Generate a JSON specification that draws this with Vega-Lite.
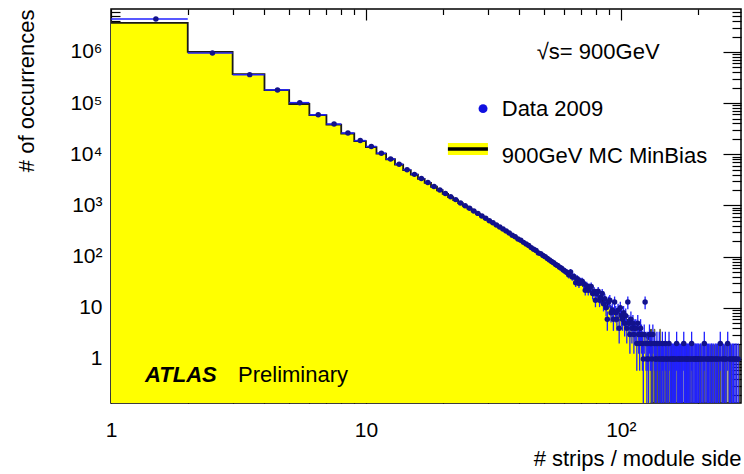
{
"$schema":"https://vega.github.io/schema/vega-lite/v6.json",
"width":630,"height":394,"autosize":"none",
"padding":{"left":111,"top":9,"right":3,"bottom":71},
"background":"white",
"config":{"view":{"stroke":"black","strokeWidth":1.5},"font":"Liberation Sans",
"axis":{"grid":false,"domain":false,"tickColor":"black","tickWidth":1.2,"labelColor":"black","titleColor":"black","labelFont":"Liberation Sans","titleFont":"Liberation Sans","labelFontSize":21,"titleFontSize":22,"titleFontWeight":"normal","labelFlush":false,"labelOverlap":false}},
"datasets":{"h":[
{"n":1,"e":2,"c":1.5,"m":3700000,"d":4400000},
{"n":2,"e":3,"c":2.5,"m":1000000,"d":950000},
{"n":3,"e":4,"c":3.5,"m":370000,"d":360000},
{"n":4,"e":5,"c":4.5,"m":180000,"d":181000},
{"n":5,"e":6,"c":5.5,"m":96000,"d":102000},
{"n":6,"e":7,"c":6.5,"m":58000,"d":59000},
{"n":7,"e":8,"c":7.5,"m":38000,"d":39000},
{"n":8,"e":9,"c":8.5,"m":25500,"d":26000},
{"n":9,"e":10,"c":9.5,"m":18000,"d":18500},
{"n":10,"e":11,"c":10.5,"m":13800,"d":14200},
{"n":11,"e":12,"c":11.5,"m":10300,"d":10500},
{"n":12,"e":13,"c":12.5,"m":8000,"d":8100},
{"n":13,"e":14,"c":13.5,"m":6300,"d":6400},
{"n":14,"e":15,"c":14.5,"m":4900,"d":5000},
{"n":15,"e":16,"c":15.5,"m":4000,"d":4050},
{"n":16,"e":17,"c":16.5,"m":3300,"d":3350},
{"n":17,"e":18,"c":17.5,"m":2760,"d":2800},
{"n":18,"e":19,"c":18.5,"m":2320,"d":2350},
{"n":19,"e":20,"c":19.5,"m":1980,"d":2000},
{"n":20,"e":21,"c":20.5,"m":1690,"d":1720},
{"n":21,"e":22,"c":21.5,"m":1460,"d":1480},
{"n":22,"e":23,"c":22.5,"m":1270,"d":1300},
{"n":23,"e":24,"c":23.5,"m":1110,"d":1120},
{"n":24,"e":25,"c":24.5,"m":977,"d":990},
{"n":25,"e":26,"c":25.5,"m":865,"d":880},
{"n":26,"e":27,"c":26.5,"m":769,"d":780},
{"n":27,"e":28,"c":27.5,"m":685,"d":700},
{"n":28,"e":29,"c":28.5,"m":614,"d":620},
{"n":29,"e":30,"c":29.5,"m":552,"d":560},
{"n":30,"e":31,"c":30.5,"m":498,"d":505},
{"n":31,"e":32,"c":31.5,"m":451,"d":460},
{"n":32,"e":33,"c":32.5,"m":410,"d":415},
{"n":33,"e":34,"c":33.5,"m":373,"d":380},
{"n":34,"e":35,"c":34.5,"m":340,"d":345},
{"n":35,"e":36,"c":35.5,"m":310,"d":318},
{"n":36,"e":37,"c":36.5,"m":284,"d":290},
{"n":37,"e":38,"c":37.5,"m":260,"d":262},
{"n":38,"e":39,"c":38.5,"m":239,"d":245},
{"n":39,"e":40,"c":39.5,"m":220,"d":222},
{"n":40,"e":41,"c":40.5,"m":202,"d":210},
{"n":41,"e":42,"c":41.5,"m":187,"d":190},
{"n":42,"e":43,"c":42.5,"m":173,"d":176},
{"n":43,"e":44,"c":43.5,"m":160,"d":165},
{"n":44,"e":45,"c":44.5,"m":148,"d":150},
{"n":45,"e":46,"c":45.5,"m":137,"d":140,"lo":128.2,"hi":151.8},
{"n":46,"e":47,"c":46.5,"m":127,"d":132,"lo":120.5,"hi":143.5},
{"n":47,"e":48,"c":47.5,"m":119,"d":118,"lo":107.1,"hi":128.9},
{"n":48,"e":49,"c":48.5,"m":110,"d":114,"lo":103.3,"hi":124.7},
{"n":49,"e":50,"c":49.5,"m":103,"d":105,"lo":94.8,"hi":115.2},
{"n":50,"e":51,"c":50.5,"m":96,"d":100,"lo":90,"hi":110},
{"n":51,"e":52,"c":51.5,"m":89.5,"d":92,"lo":82.4,"hi":101.6},
{"n":52,"e":53,"c":52.5,"m":83.6,"d":86,"lo":76.7,"hi":95.3},
{"n":53,"e":54,"c":53.5,"m":78.2,"d":80,"lo":71.1,"hi":88.9},
{"n":54,"e":55,"c":54.5,"m":73.3,"d":76,"lo":67.3,"hi":84.7},
{"n":55,"e":56,"c":55.5,"m":68.7,"d":70,"lo":61.6,"hi":78.4},
{"n":56,"e":57,"c":56.5,"m":64.4,"d":67,"lo":58.8,"hi":75.2},
{"n":57,"e":58,"c":57.5,"m":60.5,"d":62,"lo":54.1,"hi":69.9},
{"n":58,"e":59,"c":58.5,"m":56.9,"d":59,"lo":51.3,"hi":66.7},
{"n":59,"e":60,"c":59.5,"m":53.5,"d":55,"lo":47.6,"hi":62.4},
{"n":60,"e":61,"c":60.5,"m":50.3,"d":52,"lo":44.8,"hi":59.2},
{"n":61,"e":62,"c":61.5,"m":47.4,"d":49,"lo":42,"hi":56},
{"n":62,"e":63,"c":62.5,"m":44.7,"d":44,"lo":37.4,"hi":50.6},
{"n":63,"e":64,"c":63.5,"m":42.2,"d":50,"lo":42.9,"hi":57.1},
{"n":64,"e":65,"c":64.5,"m":39.8,"d":40,"lo":33.7,"hi":46.3},
{"n":65,"e":66,"c":65.5,"m":37.6,"d":41,"lo":34.6,"hi":47.4},
{"n":66,"e":67,"c":66.5,"m":35.5,"d":31,"lo":25.4,"hi":36.6},
{"n":67,"e":68,"c":67.5,"m":33.6,"d":37,"lo":30.9,"hi":43.1},
{"n":68,"e":69,"c":68.5,"m":31.8,"d":30,"lo":24.5,"hi":35.5},
{"n":69,"e":70,"c":69.5,"m":30.1,"d":33,"lo":27.3,"hi":38.7},
{"n":70,"e":71,"c":70.5,"m":28.5,"d":33,"lo":27.3,"hi":38.7},
{"n":71,"e":72,"c":71.5,"m":27,"d":30,"lo":24.5,"hi":35.5},
{"n":72,"e":73,"c":72.5,"m":25.7,"d":22,"lo":17.3,"hi":26.7},
{"n":73,"e":74,"c":73.5,"m":24.4,"d":27,"lo":21.8,"hi":32.2},
{"n":74,"e":75,"c":74.5,"m":23.1,"d":22,"lo":17.3,"hi":26.7},
{"n":75,"e":76,"c":75.5,"m":22,"d":25,"lo":20,"hi":30},
{"n":76,"e":77,"c":76.5,"m":20.9,"d":26,"lo":20.9,"hi":31.1},
{"n":77,"e":78,"c":77.5,"m":19.9,"d":19,"lo":14.6,"hi":23.4},
{"n":78,"e":79,"c":78.5,"m":18.9,"d":21,"lo":16.4,"hi":25.6},
{"n":79,"e":80,"c":79.5,"m":18,"d":14,"lo":10.26,"hi":17.74},
{"n":80,"e":81,"c":80.5,"m":17.2,"d":19,"lo":14.6,"hi":23.4},
{"n":81,"e":82,"c":81.5,"m":16.4,"d":21,"lo":16.4,"hi":25.6},
{"n":82,"e":83,"c":82.5,"m":15.6,"d":14,"lo":10.3,"hi":17.7},
{"n":83,"e":84,"c":83.5,"m":14.9,"d":16,"lo":12,"hi":20},
{"n":84,"e":85,"c":84.5,"m":14.2,"d":19,"lo":14.6,"hi":23.4},
{"n":85,"e":86,"c":85.5,"m":13.5,"d":12,"lo":8.5,"hi":15.5},
{"n":86,"e":87,"c":86.5,"m":12.9,"d":15,"lo":11.1,"hi":18.9},
{"n":87,"e":88,"c":87.5,"m":12.3,"d":10,"lo":6.84,"hi":13.16},
{"n":88,"e":89,"c":88.5,"m":11.8,"d":6,"lo":3.55,"hi":8.45},
{"n":89,"e":90,"c":89.5,"m":11.3,"d":13,"lo":9.4,"hi":16.6},
{"n":90,"e":91,"c":90.5,"m":10.8,"d":14,"lo":10.26,"hi":17.74},
{"n":91,"e":92,"c":91.5,"m":10.3,"d":8,"lo":5.17,"hi":10.83},
{"n":92,"e":93,"c":92.5,"m":9.9,"d":9,"lo":6,"hi":12},
{"n":93,"e":94,"c":93.5,"m":9.5,"d":6,"lo":3.55,"hi":8.45},
{"n":94,"e":95,"c":94.5,"m":9.1,"d":13,"lo":9.39,"hi":16.61},
{"n":95,"e":96,"c":95.5,"m":8.7,"d":8,"lo":5.17,"hi":10.83},
{"n":96,"e":97,"c":96.5,"m":8.4,"d":6,"lo":3.55,"hi":8.45},
{"n":97,"e":98,"c":97.5,"m":8,"d":9,"lo":6,"hi":12},
{"n":98,"e":99,"c":98.5,"m":7.7,"d":4,"lo":2,"hi":6},
{"n":99,"e":100,"c":99.5,"m":7.4,"d":10,"lo":6.84,"hi":13.16},
{"n":100,"e":101,"c":100.5,"m":7.1,"d":7,"lo":4.35,"hi":9.65},
{"n":101,"e":102,"c":101.5,"m":6.8,"d":6,"lo":3.55,"hi":8.45},
{"n":102,"e":103,"c":102.5,"m":6.5,"d":8,"lo":5.17,"hi":10.83},
{"n":103,"e":104,"c":103.5,"m":6.3,"d":5,"lo":2.76,"hi":7.24},
{"n":104,"e":105,"c":104.5,"m":6,"d":7,"lo":4.35,"hi":9.65},
{"n":105,"e":106,"c":105.5,"m":5.8,"d":4,"lo":2,"hi":6},
{"n":106,"e":107,"c":106.5,"m":5.6,"d":13,"lo":9.39,"hi":16.61},
{"n":107,"e":108,"c":107.5,"m":5.4,"d":5,"lo":2.76,"hi":7.24},
{"n":108,"e":109,"c":108.5,"m":5.2,"d":3,"lo":1.27,"hi":4.73},
{"n":109,"e":110,"c":109.5,"m":5,"d":6,"lo":3.55,"hi":8.45},
{"n":110,"e":111,"c":110.5,"m":4.8,"d":4,"lo":2,"hi":6},
{"n":111,"e":112,"c":111.5,"m":4.6,"d":5,"lo":2.76,"hi":7.24},
{"n":112,"e":113,"c":112.5,"m":4.5,"d":3,"lo":1.27,"hi":4.73},
{"n":113,"e":114,"c":113.5,"m":4.3,"d":4,"lo":2,"hi":6},
{"n":114,"e":115,"c":114.5,"m":4.1,"d":4,"lo":2,"hi":6},
{"n":115,"e":116,"c":115.5,"m":4,"d":2,"lo":0.59,"hi":3.41},
{"n":116,"e":117,"c":116.5,"m":3.85,"d":5,"lo":2.76,"hi":7.24},
{"n":117,"e":118,"c":117.5,"m":3.7,"d":3,"lo":1.27,"hi":4.73},
{"n":118,"e":119,"c":118.5,"m":3.55,"d":2,"lo":0.59,"hi":3.41},
{"n":119,"e":120,"c":119.5,"m":3.4,"d":4,"lo":2,"hi":6},
{"n":120,"e":121,"c":120.5,"m":3.3,"d":3,"lo":1.27,"hi":4.73},
{"n":121,"e":122,"c":121.5,"m":3.2,"d":2,"lo":0.59,"hi":3.41},
{"n":122,"e":123,"c":122.5,"m":3.1,"d":1,"lo":0,"hi":2},
{"n":123,"e":124,"c":123.5,"m":3,"d":3,"lo":1.27,"hi":4.73},
{"n":124,"e":125,"c":124.5,"m":2.9,"d":13,"lo":9.39,"hi":16.61},
{"n":125,"e":126,"c":125.5,"m":2.8,"d":2,"lo":0.59,"hi":3.41},
{"n":126,"e":127,"c":126.5,"m":2.7,"d":1,"lo":0,"hi":2},
{"n":127,"e":128,"c":127.5,"m":2.6,"d":2,"lo":0.59,"hi":3.41},
{"n":128,"e":129,"c":128.5,"m":2.5,"d":1,"lo":0,"hi":2},
{"n":129,"e":130,"c":129.5,"m":2.45,"d":3,"lo":1.27,"hi":4.73},
{"n":130,"e":131,"c":130.5,"m":2.4,"d":2,"lo":0.59,"hi":3.41},
{"n":131,"e":132,"c":131.5,"m":3.8,"d":2,"lo":0.59,"hi":3.41},
{"n":132,"e":133,"c":132.5,"m":1.9,"d":1,"lo":0,"hi":2},
{"n":133,"e":134,"c":133.5,"m":1.9,"d":3,"lo":1.27,"hi":4.73},
{"n":135,"e":136,"c":135.5,"m":3.8,"d":2,"lo":0.59,"hi":3.41},
{"n":136,"e":137,"c":136.5,"m":1.9,"d":1,"lo":0,"hi":2},
{"n":137,"e":138,"c":137.5,"d":1,"lo":0,"hi":2},
{"n":138,"e":139,"c":138.5,"m":1.9,"d":2,"lo":0.59,"hi":3.41},
{"n":139,"e":140,"c":139.5,"m":1.9},
{"n":140,"e":141,"c":140.5,"d":1,"lo":0,"hi":2},
{"n":141,"e":142,"c":141.5,"m":1.9,"d":2,"lo":0.59,"hi":3.41},
{"n":142,"e":143,"c":142.5,"m":3.8,"d":1,"lo":0,"hi":2},
{"n":144,"e":145,"c":144.5,"m":1.9,"d":1,"lo":0,"hi":2},
{"n":145,"e":146,"c":145.5,"d":2,"lo":0.59,"hi":3.41},
{"n":146,"e":147,"c":146.5,"m":1.9,"d":1,"lo":0,"hi":2},
{"n":147,"e":148,"c":147.5,"m":1.9,"d":1,"lo":0,"hi":2},
{"n":149,"e":150,"c":149.5,"m":1.9,"d":2,"lo":0.59,"hi":3.41},
{"n":150,"e":151,"c":150.5,"d":1,"lo":0,"hi":2},
{"n":151,"e":152,"c":151.5,"m":1.9,"d":1,"lo":0,"hi":2},
{"n":152,"e":153,"c":152.5,"m":1.9},
{"n":153,"e":154,"c":153.5,"d":1,"lo":0,"hi":2},
{"n":154,"e":155,"c":154.5,"m":1.9,"d":2,"lo":0.59,"hi":3.41},
{"n":156,"e":157,"c":156.5,"d":1,"lo":0,"hi":2},
{"n":157,"e":158,"c":157.5,"m":1.9,"d":1,"lo":0,"hi":2},
{"n":158,"e":159,"c":158.5,"m":1.9},
{"n":159,"e":160,"c":159.5,"d":1,"lo":0,"hi":2},
{"n":160,"e":161,"c":160.5,"m":1.9,"d":1,"lo":0,"hi":2},
{"n":162,"e":163,"c":162.5,"m":1.9,"d":1,"lo":0,"hi":2},
{"n":163,"e":164,"c":163.5,"d":1,"lo":0,"hi":2},
{"n":164,"e":165,"c":164.5,"m":1.9},
{"n":165,"e":166,"c":165.5,"d":2,"lo":0.59,"hi":3.41},
{"n":166,"e":167,"c":166.5,"d":1,"lo":0,"hi":2},
{"n":167,"e":168,"c":167.5,"m":1.9},
{"n":168,"e":169,"c":168.5,"d":1,"lo":0,"hi":2},
{"n":169,"e":170,"c":169.5,"m":1.9,"d":1,"lo":0,"hi":2},
{"n":171,"e":172,"c":171.5,"d":1,"lo":0,"hi":2},
{"n":172,"e":173,"c":172.5,"m":1.9},
{"n":173,"e":174,"c":173.5,"d":1,"lo":0,"hi":2},
{"n":174,"e":175,"c":174.5,"m":1.9,"d":1,"lo":0,"hi":2},
{"n":176,"e":177,"c":176.5,"d":2,"lo":0.59,"hi":3.41},
{"n":177,"e":178,"c":177.5,"m":1.9,"d":1,"lo":0,"hi":2},
{"n":179,"e":180,"c":179.5,"d":1,"lo":0,"hi":2},
{"n":180,"e":181,"c":180.5,"m":1.9},
{"n":181,"e":182,"c":181.5,"d":1,"lo":0,"hi":2},
{"n":182,"e":183,"c":182.5,"m":1.9,"d":1,"lo":0,"hi":2},
{"n":184,"e":185,"c":184.5,"d":1,"lo":0,"hi":2},
{"n":185,"e":186,"c":185.5,"m":1.9},
{"n":186,"e":187,"c":186.5,"d":1,"lo":0,"hi":2},
{"n":188,"e":189,"c":188.5,"m":1.9,"d":1,"lo":0,"hi":2},
{"n":189,"e":190,"c":189.5,"d":2,"lo":0.59,"hi":3.41},
{"n":191,"e":192,"c":191.5,"m":1.9,"d":1,"lo":0,"hi":2},
{"n":193,"e":194,"c":193.5,"d":1,"lo":0,"hi":2},
{"n":195,"e":196,"c":195.5,"m":1.9,"d":1,"lo":0,"hi":2},
{"n":196,"e":197,"c":196.5,"d":1,"lo":0,"hi":2},
{"n":198,"e":199,"c":198.5,"m":1.9,"d":1,"lo":0,"hi":2},
{"n":200,"e":201,"c":200.5,"d":1,"lo":0,"hi":2},
{"n":201,"e":202,"c":201.5,"d":1,"lo":0,"hi":2},
{"n":203,"e":204,"c":203.5,"m":1.9},
{"n":204,"e":205,"c":204.5,"d":1,"lo":0,"hi":2},
{"n":205,"e":206,"c":205.5,"d":1,"lo":0,"hi":2},
{"n":206,"e":207,"c":206.5,"m":1.9},
{"n":208,"e":209,"c":208.5,"d":1,"lo":0,"hi":2},
{"n":210,"e":211,"c":210.5,"m":1.9},
{"n":211,"e":212,"c":211.5,"d":1,"lo":0,"hi":2},
{"n":212,"e":213,"c":212.5,"d":2,"lo":0.59,"hi":3.41},
{"n":213,"e":214,"c":213.5,"m":1.9},
{"n":215,"e":216,"c":215.5,"d":1,"lo":0,"hi":2},
{"n":217,"e":218,"c":217.5,"m":1.9},
{"n":218,"e":219,"c":218.5,"d":1,"lo":0,"hi":2},
{"n":220,"e":221,"c":220.5,"d":1,"lo":0,"hi":2},
{"n":221,"e":222,"c":221.5,"m":1.9},
{"n":223,"e":224,"c":223.5,"d":1,"lo":0,"hi":2},
{"n":224,"e":225,"c":224.5,"m":1.9},
{"n":226,"e":227,"c":226.5,"d":1,"lo":0,"hi":2},
{"n":227,"e":228,"c":227.5,"d":1,"lo":0,"hi":2},
{"n":228,"e":229,"c":228.5,"m":1.9},
{"n":230,"e":231,"c":230.5,"d":1,"lo":0,"hi":2},
{"n":233,"e":234,"c":233.5,"m":1.9},
{"n":234,"e":235,"c":234.5,"d":1,"lo":0,"hi":2},
{"n":236,"e":237,"c":236.5,"d":1,"lo":0,"hi":2},
{"n":237,"e":238,"c":237.5,"m":1.9},
{"n":239,"e":240,"c":239.5,"d":1,"lo":0,"hi":2},
{"n":241,"e":242,"c":241.5,"m":1.9},
{"n":243,"e":244,"c":243.5,"d":1,"lo":0,"hi":2},
{"n":245,"e":246,"c":245.5,"d":2,"lo":0.59,"hi":3.41},
{"n":246,"e":247,"c":246.5,"m":1.9},
{"n":249,"e":250,"c":249.5,"d":1,"lo":0,"hi":2},
{"n":250,"e":251,"c":250.5,"m":1.9},
{"n":252,"e":253,"c":252.5,"d":1,"lo":0,"hi":2},
{"n":255,"e":256,"c":255.5,"m":1.9},
{"n":256,"e":257,"c":256.5,"d":1,"lo":0,"hi":2},
{"n":258,"e":259,"c":258.5,"d":1,"lo":0,"hi":2},
{"n":260,"e":261,"c":260.5,"m":1.9},
{"n":262,"e":263,"c":262.5,"d":2,"lo":0.59,"hi":3.41},
{"n":265,"e":266,"c":265.5,"m":1.9},
{"n":266,"e":267,"c":266.5,"d":1,"lo":0,"hi":2},
{"n":269,"e":270,"c":269.5,"d":1,"lo":0,"hi":2},
{"n":271,"e":272,"c":271.5,"m":1.9},
{"n":273,"e":274,"c":273.5,"d":1,"lo":0,"hi":2},
{"n":276,"e":277,"c":276.5,"d":1,"lo":0,"hi":2},
{"n":277,"e":278,"c":277.5,"m":1.9},
{"n":280,"e":281,"c":280.5,"d":1,"lo":0,"hi":2},
{"n":283,"e":284,"c":283.5,"d":1,"lo":0,"hi":2},
{"n":284,"e":285,"c":284.5,"m":1.9},
{"n":288,"e":289,"c":288.5,"d":1,"lo":0,"hi":2},
{"n":291,"e":292,"c":291.5,"m":1.9}
]},
"layer":[
{"data":{"name":"h"},"transform":[{"filter":"datum.n<=131 && datum.m>0"}],
 "mark":{"type":"area","interpolate":"step-after","color":"#ffff00","clip":true},
 "encoding":{
  "x":{"field":"n","type":"quantitative","scale":{"type":"log","domain":[1,296],"nice":false},
   "axis":{"orient":"bottom","values":[1,10,100],"tickSize":-11,"labelBaseline":"middle","labelPadding":38,"labelExpr":"datum.value>=100?'10²':datum.value>=10?'10':'1'","title":"# strips / module side","titleAnchor":"end","titlePadding":8}},
  "y":{"field":"m","type":"quantitative","scale":{"type":"log","domain":[0.138,6900000],"nice":false},
   "axis":{"orient":"left","values":[1,10,100,1000,10000,100000,1000000],"tickSize":-18,"labelPadding":27,"labelExpr":"datum.value==1?'1':datum.value==10?'10':datum.value==100?'10²':datum.value==1000?'10³':datum.value==10000?'10⁴':datum.value==100000?'10⁵':'10⁶'","title":"# of occurrences","titleAnchor":"end","titlePadding":31}},
  "y2":{"datum":0.01}}},
{"data":{"name":"h"},"transform":[{"filter":"datum.n<=131 && datum.m>0"}],
 "mark":{"type":"line","interpolate":"step-after","color":"#1a1a1a","strokeWidth":1.8,"clip":true},
 "encoding":{
  "x":{"field":"n","type":"quantitative","scale":{"type":"log","domain":[1,296],"nice":false},
   "axis":{"orient":"bottom","values":[2,3,4,5,6,7,8,9,20,30,40,50,60,70,80,90,200],"tickSize":-5.5,"labels":false,"title":null}},
  "y":{"field":"m","type":"quantitative","scale":{"type":"log","domain":[0.138,6900000],"nice":false},
   "axis":{"orient":"left","values":[0.2,0.3,0.4,0.5,0.6,0.7,0.8,0.9,2,3,4,5,6,7,8,9,20,30,40,50,60,70,80,90,200,300,400,500,600,700,800,900,2000,3000,4000,5000,6000,7000,8000,9000,20000,30000,40000,50000,60000,70000,80000,90000,200000,300000,400000,500000,600000,700000,800000,900000,2000000,3000000,4000000,5000000,6000000],"tickSize":-9,"labels":false,"title":null}}}},
{"data":{"name":"h"},"transform":[{"filter":"datum.n>=131 && datum.m>0"}],
 "mark":{"type":"bar","fill":"#ffff00","stroke":"#222222","strokeWidth":0.6,"clip":true},
 "encoding":{
  "x":{"field":"n","type":"quantitative","scale":{"type":"log","domain":[1,296],"nice":false},
   "axis":{"orient":"top","values":[1,10,100],"tickSize":-11,"labels":false,"title":null}},
  "x2":{"field":"e"},
  "y":{"field":"m","type":"quantitative","scale":{"type":"log","domain":[0.138,6900000],"nice":false},
   "axis":{"orient":"right","values":[1,10,100,1000,10000,100000,1000000],"tickSize":-18,"labels":false,"title":null}},
  "y2":{"datum":0.01}}},
{"data":{"name":"h"},"transform":[{"filter":"datum.lo>0"}],
 "mark":{"type":"rule","color":"#2020ff","strokeWidth":1.3,"clip":true},
 "encoding":{
  "x":{"field":"c","type":"quantitative","scale":{"type":"log","domain":[1,296],"nice":false},
   "axis":{"orient":"top","values":[2,3,4,5,6,7,8,9,20,30,40,50,60,70,80,90,200],"tickSize":-5.5,"labels":false,"title":null}},
  "y":{"field":"lo","type":"quantitative","scale":{"type":"log","domain":[0.138,6900000],"nice":false},
   "axis":{"orient":"right","values":[0.2,0.3,0.4,0.5,0.6,0.7,0.8,0.9,2,3,4,5,6,7,8,9,20,30,40,50,60,70,80,90,200,300,400,500,600,700,800,900,2000,3000,4000,5000,6000,7000,8000,9000,20000,30000,40000,50000,60000,70000,80000,90000,200000,300000,400000,500000,600000,700000,800000,900000,2000000,3000000,4000000,5000000,6000000],"tickSize":-9,"labels":false,"title":null}},
  "y2":{"field":"hi"}}},
{"data":{"name":"h"},"transform":[{"filter":"datum.lo===0"}],
 "mark":{"type":"rule","color":"#2020ff","strokeWidth":1.3,"clip":true},
 "encoding":{
  "x":{"field":"c","type":"quantitative","scale":{"type":"log","domain":[1,296],"nice":false},"axis":null},
  "y":{"field":"hi","type":"quantitative","scale":{"type":"log","domain":[0.138,6900000],"nice":false},"axis":null},
  "y2":{"datum":0.01}}},
{"data":{"name":"h"},"transform":[{"filter":"datum.d>0"}],
 "mark":{"type":"rule","color":"#2020ff","strokeWidth":1.5,"clip":true},
 "encoding":{
  "x":{"field":"n","type":"quantitative","scale":{"type":"log","domain":[1,296],"nice":false},"axis":null},
  "x2":{"field":"e"},
  "y":{"field":"d","type":"quantitative","scale":{"type":"log","domain":[0.138,6900000],"nice":false},"axis":null}}},
{"data":{"name":"h"},"transform":[{"filter":"datum.d>0"}],
 "mark":{"type":"point","filled":true,"color":"#12128c","opacity":1,"size":30,"clip":true},
 "encoding":{
  "x":{"field":"c","type":"quantitative","scale":{"type":"log","domain":[1,296],"nice":false},"axis":null},
  "y":{"field":"d","type":"quantitative","scale":{"type":"log","domain":[0.138,6900000],"nice":false},"axis":null}}},
{"data":{"values":[{}]},
 "mark":{"type":"rect","fill":"#ffff00"},
 "encoding":{
  "x":{"datum":20.97,"type":"quantitative","scale":{"type":"log","domain":[1,296],"nice":false},"axis":null},
  "x2":{"datum":30.1},
  "y":{"datum":16700,"type":"quantitative","scale":{"type":"log","domain":[0.138,6900000],"nice":false},"axis":null},
  "y2":{"datum":9700}}},
{"data":{"values":[{}]},
 "mark":{"type":"rule","color":"black","strokeWidth":3.5},
 "encoding":{
  "x":{"datum":20.97,"type":"quantitative","scale":{"type":"log","domain":[1,296],"nice":false},"axis":null},
  "x2":{"datum":30.1},
  "y":{"datum":12700,"type":"quantitative","scale":{"type":"log","domain":[0.138,6900000],"nice":false},"axis":null}}},
{"data":{"values":[{}]},
 "mark":{"type":"point","filled":true,"color":"#1010e0","opacity":1,"size":80},
 "encoding":{
  "x":{"datum":28.8,"type":"quantitative","scale":{"type":"log","domain":[1,296],"nice":false},"axis":null},
  "y":{"datum":78000,"type":"quantitative","scale":{"type":"log","domain":[0.138,6900000],"nice":false},"axis":null}}},
{"data":{"values":[{}]},
 "mark":{"type":"text","text":"Data 2009","font":"Liberation Sans","fontSize":22,"align":"left","baseline":"middle","color":"black"},
 "encoding":{
  "x":{"datum":34.1,"type":"quantitative","scale":{"type":"log","domain":[1,296],"nice":false},"axis":null},
  "y":{"datum":78000,"type":"quantitative","scale":{"type":"log","domain":[0.138,6900000],"nice":false},"axis":null}}},
{"data":{"values":[{}]},
 "mark":{"type":"text","text":"900GeV MC MinBias","font":"Liberation Sans","fontSize":22,"align":"left","baseline":"middle","color":"black"},
 "encoding":{
  "x":{"datum":34.1,"type":"quantitative","scale":{"type":"log","domain":[1,296],"nice":false},"axis":null},
  "y":{"datum":9300,"type":"quantitative","scale":{"type":"log","domain":[0.138,6900000],"nice":false},"axis":null}}},
{"data":{"values":[{}]},
 "mark":{"type":"text","text":"√s= 900GeV","font":"Liberation Sans","fontSize":22,"align":"left","baseline":"middle","color":"black"},
 "encoding":{
  "x":{"datum":46.8,"type":"quantitative","scale":{"type":"log","domain":[1,296],"nice":false},"axis":null},
  "y":{"datum":1000000,"type":"quantitative","scale":{"type":"log","domain":[0.138,6900000],"nice":false},"axis":null}}},
{"data":{"values":[{}]},
 "mark":{"type":"text","text":"ATLAS","font":"Liberation Sans","fontSize":22,"fontWeight":"bold","fontStyle":"italic","align":"left","baseline":"middle","color":"black"},
 "encoding":{
  "x":{"datum":1.36,"type":"quantitative","scale":{"type":"log","domain":[1,296],"nice":false},"axis":null},
  "y":{"datum":0.49,"type":"quantitative","scale":{"type":"log","domain":[0.138,6900000],"nice":false},"axis":null}}},
{"data":{"values":[{}]},
 "mark":{"type":"text","text":"Preliminary","font":"Liberation Sans","fontSize":22,"align":"left","baseline":"middle","color":"black"},
 "encoding":{
  "x":{"datum":3.15,"type":"quantitative","scale":{"type":"log","domain":[1,296],"nice":false},"axis":null},
  "y":{"datum":0.49,"type":"quantitative","scale":{"type":"log","domain":[0.138,6900000],"nice":false},"axis":null}}}
],
"resolve":{"axis":{"x":"independent","y":"independent"}}
}
